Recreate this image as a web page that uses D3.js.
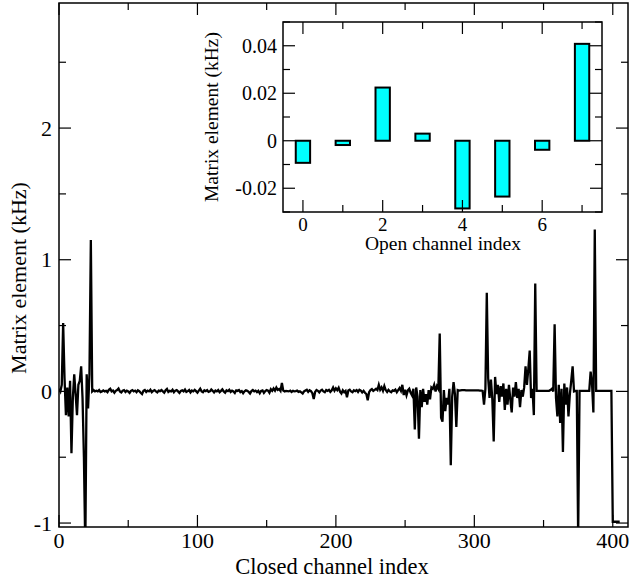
<!DOCTYPE html>
<html>
<head>
<meta charset="utf-8">
<script src="https://cdn.jsdelivr.net/npm/d3@7"></script>
<style>
  body { margin: 0; background: #fff; }
  svg text { font-family: "Liberation Serif", "Times New Roman", serif; }
</style>
</head>
<body>
<svg id="chart" width="632" height="583"></svg>
<script>
// Closed channel matrix elements (kHz), index 0..405
const closedValues = [
  0.02, 0.0, 0.05, 0.52, 0.1, -0.18, 0.03, -0.19, 0.08, -0.47,
  -0.05, 0.13, -0.02, -0.18, 0.05, 0.08, 0.19, -0.05, -0.5, -1.2,
  0.13, -0.13, 0.13, 1.15, 0.0, 0.01, 0.0, 0.005, 0.0, 0.01,
  -0.005, 0.0, 0.008, 0.0, 0.004, -0.006, 0.012, 0.02, 0.0, 0.006,
  -0.01, 0.004, 0.01, 0.022, 0.0, -0.008, 0.005, 0.01, -0.004, 0.006,
  0.0, -0.012, 0.004, 0.01, 0.0, 0.006, -0.006, 0.008, 0.002, -0.01,
  -0.02, 0.004, 0.01, -0.004, 0.006, 0.0, 0.012, -0.006, 0.004, 0.01,
  0.0, -0.008, 0.006, 0.002, 0.01, 0.0, -0.01, 0.008, 0.018, -0.004,
  0.004, 0.0, 0.012, -0.006, 0.006, 0.01, 0.0, -0.012, 0.004, 0.008,
  0.0, 0.014, -0.004, 0.002, 0.01, -0.008, 0.006, 0.0, 0.012, 0.002,
  -0.01, 0.006, 0.02, 0.0, -0.006, 0.008, 0.002, 0.01, -0.004, 0.0,
  0.014, 0.004, -0.008, 0.006, 0.0, 0.01, -0.006, 0.004, 0.016, 0.0,
  -0.01, 0.008, 0.002, 0.012, -0.004, 0.006, 0.0, -0.012, 0.008, 0.004,
  0.01, -0.006, 0.002, -0.014, 0.0, 0.008, 0.004, -0.004, -0.016, 0.002,
  0.01, 0.0, 0.006, -0.006, 0.004, -0.014, 0.004, 0.008, -0.012, 0.002,
  0.01, 0.006, -0.01, 0.016, 0.004, 0.022, 0.006, 0.03, 0.012, 0.018,
  0.004, 0.064, 0.006, 0.0, 0.004, 0.002, 0.0, 0.006, -0.004, 0.004,
  0.0, 0.002, 0.006, -0.004, 0.0, -0.008, -0.016, 0.0, 0.006, 0.012,
  -0.004, 0.008, 0.002, -0.014, -0.058, -0.004, 0.01, 0.004, -0.008, 0.006,
  0.012, 0.0, -0.006, 0.01, 0.004, 0.012, -0.004, 0.008, 0.03, 0.006,
  0.024, 0.01, 0.028, -0.002, -0.016, 0.008, -0.006, 0.004, -0.044, 0.006,
  0.012, 0.0, -0.006, 0.008, 0.002, 0.01, -0.004, 0.012, 0.006, -0.008,
  0.004, -0.01, -0.02, -0.068, -0.006, 0.01, 0.018, 0.004, 0.012, 0.02,
  0.01, 0.05, 0.012, 0.03, 0.004, 0.04, 0.01, -0.004, 0.012, 0.0,
  -0.006, 0.008, 0.004, 0.014, -0.006, 0.01, 0.026, 0.004, 0.05, -0.028,
  0.012, -0.03, 0.008, 0.02, -0.01, -0.03, 0.02, -0.29, 0.03, -0.04,
  -0.36, 0.01, -0.12, 0.02, -0.08, -0.02, -0.1, 0.01, -0.06, 0.03,
  0.02, 0.05, 0.0, 0.04, 0.02, 0.44, -0.2, -0.23, 0.01, -0.15,
  -0.05, -0.1, 0.02, -0.56, -0.04, 0.07, -0.02, -0.27, 0.01, 0.006,
  0.008, 0.01, 0.01, 0.01, 0.008, 0.008, 0.008, 0.008, 0.008, 0.008,
  0.008, 0.008, 0.008, 0.008, 0.006, 0.006, 0.004, -0.1, 0.02, 0.75,
  0.1, -0.05, 0.09, -0.06, -0.38, 0.11, -0.02, 0.05, -0.08, 0.04,
  -0.04, 0.06, -0.14, 0.02, -0.1, 0.05, -0.06, -0.16, 0.03, -0.04,
  0.07, -0.05, 0.02, -0.12, 0.01, -0.04, 0.03, 0.19, 0.05, 0.17,
  0.31, -0.05, 0.02, -0.18, 0.82, 0.004, 0.004, 0.004, 0.004, 0.004,
  0.004, 0.004, 0.004, 0.004, 0.004, 0.01, 0.02, 0.0, 0.51, -0.05,
  -0.19, 0.05, -0.24, 0.02, -0.46, 0.06, -0.1, 0.03, -0.19, -0.02,
  0.08, 0.19, 0.0, 0.004, 0.004, -1.1, 0.004, 0.004, 0.004, 0.004,
  0.004, 0.004, 0.004, 0.004, 0.15, 0.06, -0.16, 1.23, 0.004, 0.004,
  0.004, 0.004, 0.004, 0.004, 0.004, 0.004, 0.004, 0.004, 0.004, 0.004,
  -0.99, -0.99, -0.99, -0.99, -0.99, -0.99
];

// Open channel matrix elements (kHz), inset bars
const openIndex = [0, 1, 2, 3, 4, 5, 6, 7];
const openValues = [-0.0093, -0.0018, 0.0224, 0.003, -0.0285, -0.0235, -0.0038, 0.0408];

// tick values
const mainXTicks = [0, 100, 200, 300, 400];
const mainXMinor = [50, 150, 250, 350];
const mainYTicks = [-1, 0, 1, 2];
const mainYMinor = [-0.5, 0.5, 1.5, 2.5];
const insetXTicks = [0, 2, 4, 6];
const insetXMinor = [1, 3, 5, 7];
const insetYTicks = [-0.02, 0, 0.02, 0.04];
const insetYMinor = [-0.03, -0.01, 0.01, 0.03, 0.05];

const FONT = "Liberation Serif, Times New Roman, serif";
const svg = d3.select("#chart");

// --------------------
// main panel
// --------------------
const main = { left: 59, top: 3, right: 628, bottom: 527 };
const x = d3.scaleLinear().domain([0, 411]).range([main.left, main.right]);
const y = d3.scaleLinear().domain([-1.03, 2.95]).range([main.bottom, main.top]);

svg.append("defs").append("clipPath").attr("id", "mainClip")
  .append("rect")
  .attr("x", main.left).attr("y", main.top)
  .attr("width", main.right - main.left).attr("height", main.bottom - main.top);

const line = d3.line()
  .x((d, i) => x(i))
  .y(d => y(d));

svg.append("path")
  .datum(closedValues)
  .attr("clip-path", "url(#mainClip)")
  .attr("fill", "none")
  .attr("stroke", "#000")
  .attr("stroke-width", 2.3)
  .attr("stroke-linejoin", "miter")
  .attr("d", line);

// draws inward ticks on all 4 sides of a box
function drawTicks(g, xs, ys, box, xMajor, xMinor, yMajor, yMinor, majLen, minLen) {
  const t = g.append("g").attr("stroke", "#000").attr("stroke-width", 1.2);
  const vt = (vals, len) => vals.forEach(v => {
    t.append("line").attr("x1", xs(v)).attr("x2", xs(v)).attr("y1", box.bottom).attr("y2", box.bottom - len);
    t.append("line").attr("x1", xs(v)).attr("x2", xs(v)).attr("y1", box.top).attr("y2", box.top + len);
  });
  const ht = (vals, len) => vals.forEach(v => {
    t.append("line").attr("y1", ys(v)).attr("y2", ys(v)).attr("x1", box.left).attr("x2", box.left + len);
    t.append("line").attr("y1", ys(v)).attr("y2", ys(v)).attr("x1", box.right).attr("x2", box.right - len);
  });
  vt(xMajor, majLen); vt(xMinor, minLen);
  ht(yMajor, majLen); ht(yMinor, minLen);
}

drawTicks(svg, x, y, main, mainXTicks, mainXMinor, mainYTicks, mainYMinor, 12, 7);

svg.append("rect")
  .attr("x", main.left).attr("y", main.top)
  .attr("width", main.right - main.left).attr("height", main.bottom - main.top)
  .attr("fill", "none").attr("stroke", "#000").attr("stroke-width", 1.5);

// tick labels
svg.append("g").selectAll("text").data(mainXTicks).join("text")
  .attr("x", d => x(d)).attr("y", 548)
  .attr("text-anchor", "middle").attr("font-family", FONT).attr("font-size", 22)
  .text(d => d);

svg.append("g").selectAll("text").data(mainYTicks).join("text")
  .attr("x", 52).attr("y", d => y(d) + 7.5)
  .attr("text-anchor", "end").attr("font-family", FONT).attr("font-size", 22)
  .text(d => d);

svg.append("text")
  .attr("x", 332).attr("y", 574)
  .attr("text-anchor", "middle").attr("font-family", FONT).attr("font-size", 22.5)
  .text("Closed channel index");

svg.append("text")
  .attr("transform", "translate(26," + 278 + ") rotate(-90)")
  .attr("text-anchor", "middle").attr("font-family", FONT).attr("font-size", 22)
  .text("Matrix element (kHz)");

// --------------------
// inset panel
// --------------------
const inset = { left: 283, top: 22, right: 602, bottom: 212 };
const xi = d3.scaleLinear().domain([-0.5, 7.5]).range([inset.left, inset.right]);
const yi = d3.scaleLinear().domain([-0.03, 0.05]).range([inset.bottom, inset.top]);

svg.append("rect")
  .attr("x", inset.left).attr("y", inset.top)
  .attr("width", inset.right - inset.left).attr("height", inset.bottom - inset.top)
  .attr("fill", "#fff");

const barW = 0.36;
svg.append("g").selectAll("rect").data(openIndex).join("rect")
  .attr("x", d => xi(d - barW / 2))
  .attr("width", xi(barW) - xi(0))
  .attr("y", (d, i) => yi(Math.max(0, openValues[i])))
  .attr("height", (d, i) => Math.abs(yi(openValues[i]) - yi(0)))
  .attr("fill", "#00ffff")
  .attr("stroke", "#000")
  .attr("stroke-width", 2);

drawTicks(svg, xi, yi, inset, insetXTicks, insetXMinor, insetYTicks, insetYMinor, 12, 7);

svg.append("rect")
  .attr("x", inset.left).attr("y", inset.top)
  .attr("width", inset.right - inset.left).attr("height", inset.bottom - inset.top)
  .attr("fill", "none").attr("stroke", "#000").attr("stroke-width", 1.5);

svg.append("g").selectAll("text").data(insetXTicks).join("text")
  .attr("x", d => xi(d)).attr("y", 231)
  .attr("text-anchor", "middle").attr("font-family", FONT).attr("font-size", 19)
  .text(d => d);

svg.append("g").selectAll("text").data(insetYTicks).join("text")
  .attr("x", 277).attr("y", d => yi(d) + 7)
  .attr("text-anchor", "end").attr("font-family", FONT).attr("font-size", 20)
  .text(d => d);

svg.append("text")
  .attr("x", 443).attr("y", 250)
  .attr("text-anchor", "middle").attr("font-family", FONT).attr("font-size", 19.5)
  .text("Open channel index");

svg.append("text")
  .attr("transform", "translate(218," + 117 + ") rotate(-90)")
  .attr("text-anchor", "middle").attr("font-family", FONT).attr("font-size", 19.5)
  .text("Matrix element (kHz)");
</script>
</body>
</html>
